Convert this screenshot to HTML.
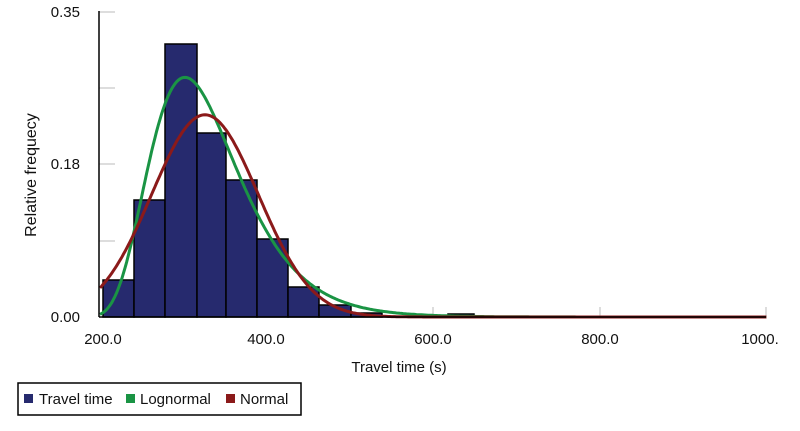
<!DOCTYPE html>
<html><head><style>
body{margin:0;background:#fff;width:800px;height:426px;overflow:hidden;font-family:"Liberation Sans",sans-serif}
</style></head><body>
<svg id="s" width="800" height="426" xmlns="http://www.w3.org/2000/svg" font-family="Liberation Sans, sans-serif">
<g stroke="#bbb" stroke-width="1">
<line x1="99" y1="12" x2="115" y2="12"/><line x1="99" y1="88" x2="115" y2="88"/>
<line x1="99" y1="164" x2="115" y2="164"/><line x1="99" y1="241" x2="115" y2="241"/>
<line x1="266" y1="307" x2="266" y2="317"/><line x1="433" y1="307" x2="433" y2="317"/>
<line x1="600" y1="307" x2="600" y2="317"/><line x1="766" y1="307" x2="766" y2="317"/>
</g>
<g fill="#262a6e" stroke="#000" stroke-width="1.5">
<rect x="103" y="280" width="31" height="37"/>
<rect x="134" y="200" width="31" height="117"/>
<rect x="165" y="44" width="32" height="273"/>
<rect x="197" y="133" width="29" height="184"/>
<rect x="226" y="180" width="31" height="137"/>
<rect x="257" y="239" width="31" height="78"/>
<rect x="288" y="287" width="31" height="30"/>
<rect x="319" y="305" width="32" height="12"/>
<rect x="351" y="313" width="31" height="4"/>
<rect x="448" y="314" width="26" height="3"/>
</g>
<path id="g" fill="none" stroke="#1a9444" stroke-width="3"/>
<path id="r" fill="none" stroke="#8b1a1a" stroke-width="3"/>
<line x1="99" y1="317" x2="766" y2="317" stroke="#000" stroke-width="1.5"/>
<line x1="99" y1="11" x2="99" y2="317" stroke="#000" stroke-width="1.5"/>
<g font-size="15" fill="#111" text-anchor="end">
<text x="80" y="17">0.35</text><text x="80" y="169">0.18</text><text x="80" y="322">0.00</text>
</g>
<g font-size="15" fill="#111" text-anchor="middle">
<text x="103" y="344">200.0</text><text x="266" y="344">400.0</text><text x="433" y="344">600.0</text><text x="600" y="344">800.0</text><text x="760" y="344">1000.</text>
<text x="399" y="372">Travel time (s)</text>
<text font-size="16" transform="translate(36,175) rotate(-90)">Relative frequecy</text>
</g>
<rect x="18" y="383" width="283" height="32" fill="#fff" stroke="#000" stroke-width="1.5"/>
<rect x="24" y="394" width="9" height="9" fill="#262a6e"/>
<rect x="126" y="394" width="9" height="9" fill="#1a9444"/>
<rect x="226" y="394" width="9" height="9" fill="#8b1a1a"/>
<g font-size="15" fill="#111">
<text x="39" y="404">Travel time</text><text x="140" y="404">Lognormal</text><text x="240" y="404">Normal</text>
</g>
</svg>
<script>
function X(v){return 100+(v-200)*0.833}
function Y(f){return 317-f/0.35*305}
var g="",r="",sg=0.33,sh=140,mu=Math.log(302-sh)+sg*sg,mx=0,arr=[];
for(var v=200;v<=1000;v+=2){var f=Math.exp(-Math.pow(Math.log(v-sh)-mu,2)/(2*sg*sg))/(v-sh);arr.push(f);if(f>mx)mx=f;}
var i=0;for(var v=200;v<=1000;v+=2,i++){var f=arr[i]/mx*0.275;g+=(i?"L":"M")+X(v).toFixed(1)+","+Y(f).toFixed(1);
var n=0.232*Math.exp(-Math.pow(v-326,2)/(2*64*64));r+=(i?"L":"M")+X(v).toFixed(1)+","+Y(n).toFixed(1);}
document.getElementById("g").setAttribute("d",g);document.getElementById("r").setAttribute("d",r);
</script>
</body></html>
